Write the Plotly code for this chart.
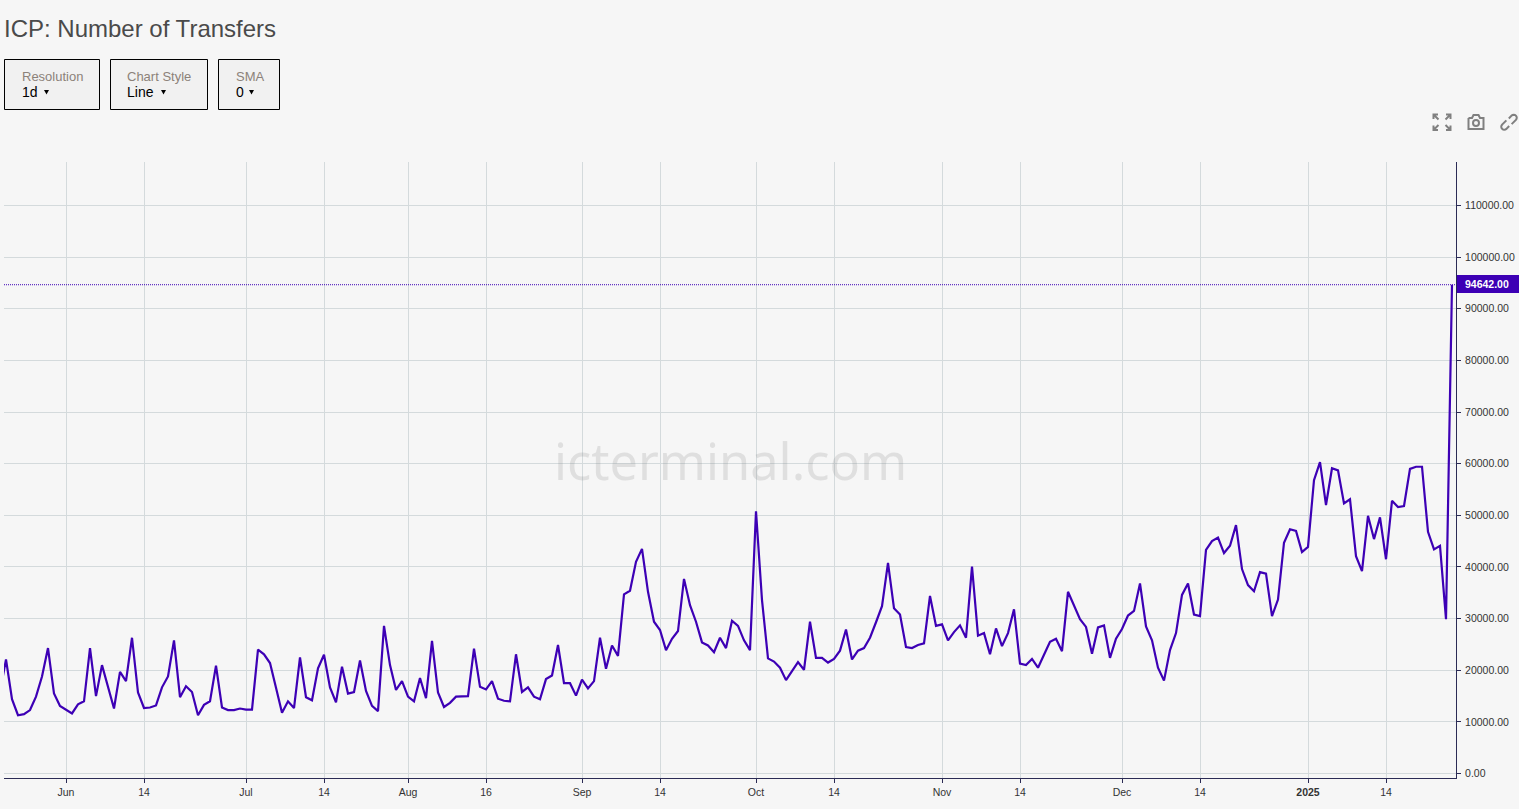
import math
import plotly.graph_objects as go

# Number of transfers, one value per day (daily bars, evenly spaced on the time scale)
transfers = [
 15800, 22100, 14400, 11300, 11500, 12300, 14900, 18800, 24300, 15500, 13100, 12400,
 11650, 13400, 14000, 24300, 15000, 21000, 16700, 12600, 19700, 17900, 26300, 15700,
 12700, 12800, 13200, 16700, 18800, 25800, 14800, 16900, 15800, 11300, 13300, 14000,
 20900, 12800, 12300, 12300, 12600, 12400, 12400, 24000, 23100, 21400, 16600, 11800,
 14000, 12700, 22500, 14800, 14200, 20400, 23000, 16700, 13800, 20700, 15500, 15800,
 21900, 16000, 13100, 12100, 28600, 21000, 16200, 17900, 14900, 14000, 18500, 14600,
 25700, 15700, 12900, 13700, 14900, 15000, 15000, 24200, 16800, 16300, 17900, 14500,
 14100, 14000, 23100, 15800, 16700, 14900, 14400, 18300, 19000, 24900, 17500, 17500,
 15100, 18200, 16500, 17900, 26300, 20300, 24800, 22800, 34700, 35400, 41000, 43500,
 35200, 29400, 27800, 23900, 26100, 27600, 37700, 32600, 29400, 25400, 24800, 23500,
 26300, 24300, 29600, 28600, 25800, 23900, 50800, 33600, 22300, 21700, 20500, 18100,
 19900, 21600, 20100, 29400, 22400, 22400, 21500, 22200, 23800, 27900, 22100, 23800,
 24300, 26300, 29300, 32400, 40800, 32000, 30800, 24500, 24300, 24900, 25200, 34400,
 28600, 28900, 25800, 27400, 28700, 26300, 40100, 26700, 27200, 23100, 28100, 24700,
 27200, 31800, 21300, 21000, 22200, 20500, 23000, 25500, 26100, 23700, 35200, 32600,
 29900, 28400, 23200, 28300, 28700, 22400, 26100, 28000, 30600, 31500, 36800, 28500,
 25800, 20500, 18000, 23900, 27200, 34600, 36800, 30800, 30500, 43300, 45000, 45700,
 42700, 44100, 48100, 39600, 36500, 35300, 39000, 38700, 30500, 33700, 44700, 47300,
 47000, 42900, 43900, 56800, 60300, 52000, 59100, 58700, 52300, 53100, 42100, 39200,
 49900, 45400, 49600, 41500, 52800, 51600, 51800, 59000, 59400, 59400, 46800, 43400,
 44100, 29900, 94642,
]
tick_positions = [11, 24, 41, 54, 68, 81, 97, 110, 126, 139, 157, 170, 187, 200, 218, 231]
tick_labels = ["Jun", "14", "Jul", "14", "Aug", "16", "Sep", "14", "Oct", "14", "Nov", "14",
               "Dec", "14", "<b>2025</b>", "14"]
y_ticks = [0, 10000, 20000, 30000, 40000, 50000, 60000, 70000, 80000, 90000, 100000, 110000]
title_text = "ICP: Number of Transfers"
menus = [("Resolution", "1d"), ("Chart Style", "Line"), ("SMA", "0")]

W, H = 1519, 809
L, R, T, B = 4, 1456, 162, 778
BG = "#f6f6f6"
LINE = "#3d00b5"
GRID = "#d4dadc"
AXIS = "#2b2b55"
FONT = "Liberation Sans, Arial, sans-serif"

def px(x):
    return (x - L) / (R - L)

def py(y):
    return (B - y) / (B - T)

def path(*segments):
    out = []
    for seg in segments:
        out.append(" ".join(("M" if i == 0 else "L") + f"{px(a):.5f},{py(b):.5f}" for i, (a, b) in enumerate(seg)))
    return " ".join(out)

shapes = []
annotations = []

def text(x, y, s, size, color, anchor="left", **kw):
    annotations.append(dict(x=px(x), y=py(y), xref="paper", yref="paper", text=s, showarrow=False,
                            xanchor=anchor, yanchor="middle", align=anchor, borderpad=0,
                            font=dict(size=size, color=color, family=kw.pop("family", FONT)), **kw))

text(3, 28, title_text, 24, "#4a4a4a")

boxes = [(4, 100), (110, 208), (218, 280)]
for (x0, x1), (label, val) in zip(boxes, menus):
    shapes.append(dict(type="rect", xref="paper", yref="paper", x0=px(x0 + .5), x1=px(x1 - .5),
                       y0=py(59.5), y1=py(109.5), fillcolor="#f1f1f1", line=dict(color="#000000", width=1)))
    offset = 15.5 if label == "Chart Style" else 16.5
    text(x0 + offset, 76, label, 13, "#8c8279")
    text(x0 + offset, 92, val, 14, "#000000")
    shift = {"1d": 40, "Line": 51, "0": 31}[val]
    shapes.append(dict(type="path", xref="paper", yref="paper", fillcolor="#000000", line=dict(width=0),
                       path=path([(x0 + shift, 90), (x0 + shift + 5, 90), (x0 + shift + 2.5, 94.5)]) + " Z"))

# toolbar icons
ICON = "#808080"
ic = dict(type="path", xref="paper", yref="paper", line=dict(color=ICON, width=2))
shapes.append(dict(ic, path=path(
    [(1438, 114.5), (1433.5, 114.5), (1433.5, 119)], [(1434, 115), (1438.5, 119.5)],
    [(1446, 114.5), (1450.5, 114.5), (1450.5, 119)], [(1450, 115), (1445.5, 119.5)],
    [(1438, 130), (1433.5, 130), (1433.5, 125.5)], [(1434, 129.5), (1438.5, 125)],
    [(1446, 130), (1450.5, 130), (1450.5, 125.5)], [(1450, 129.5), (1445.5, 125)])))
shapes.append(dict(ic, path=path([(1468.5, 118), (1472, 118), (1473.5, 115), (1478.5, 115), (1480, 118),
                                  (1483.5, 118), (1483.5, 129), (1468.5, 129), (1468.5, 118)])))
shapes.append(dict(type="circle", xref="paper", yref="paper", x0=px(1473), x1=px(1479), y0=py(126), y1=py(120),
                   line=dict(color=ICON, width=2)))

def hook(cx, cy, direction):
    # one link of the chain icon: a rounded hook along the diagonal
    ux, uy = direction * 0.7071, direction * -0.7071
    vx, vy = -uy, ux
    r, a = 3.0, 2.5
    pts = [(cx - ux * a * 1.4 + vx * r, cy - uy * a * 1.4 + vy * r)]
    for i in range(9):
        pts.append((cx + ux * (a + r * math.sin(math.pi * i / 8)) + vx * r * math.cos(math.pi * i / 8),
                    cy + uy * (a + r * math.sin(math.pi * i / 8)) + vy * r * math.cos(math.pi * i / 8)))
    pts.append((cx - ux * a * 0.6 - vx * r, cy - uy * a * 0.6 - vy * r))
    return pts

shapes.append(dict(ic, path=path(hook(1512, 119.5, 1), hook(1506, 125, -1))))

# watermark
text(730.5, 460.5, "icterminal.com", 50.5, "rgba(120,120,120,0.18)", anchor="center", family="Noto Sans, sans-serif")

# last-value tag
last = transfers[-1]
shapes.append(dict(type="rect", xref="paper", yref="paper", x0=px(1457), x1=px(1519), y0=py(275), y1=py(293),
                   fillcolor=LINE, line=dict(width=0)))
text(1487, 284, f"<b>{last:.2f}</b>", 10.5, "#ffffff", anchor="center")

xs = list(range(len(transfers)))

fig = go.Figure()
fig.add_trace(go.Scatter(x=[xs[0], xs[-1] + 1], y=[last, last], mode="lines", hoverinfo="skip",
                         line=dict(color=LINE, width=1, dash="1px,1px"), showlegend=False))
fig.add_trace(go.Scatter(x=xs, y=transfers, mode="lines", line=dict(color=LINE, width=2.2), showlegend=False,
                         name="Transfers"))

fig.update_layout(
    width=W, height=H, autosize=False,
    margin=dict(l=L, r=W - R, t=T, b=H - B, pad=0),
    paper_bgcolor=BG, plot_bgcolor=BG,
    font=dict(family=FONT, size=10.5, color="#333333"),
    shapes=shapes, annotations=annotations,
    xaxis=dict(range=[L / 6, R / 6], tickmode="array", tickvals=tick_positions, ticktext=tick_labels,
               showgrid=True, gridcolor=GRID, gridwidth=1, zeroline=False, showline=True, linecolor=AXIS,
               linewidth=1, ticks="outside", ticklen=4, tickcolor=AXIS, tickfont=dict(size=10.5, color="#333333")),
    yaxis=dict(side="right", range=[-850, 118400], tickmode="array", tickvals=y_ticks,
               ticktext=[f"{v:.2f}" for v in y_ticks], ticklabelstandoff=2,
               showgrid=True, gridcolor=GRID, gridwidth=1, zeroline=False, showline=True, linecolor=AXIS,
               linewidth=1, ticks="outside", ticklen=4, tickcolor=AXIS, tickfont=dict(size=10.5, color="#333333")),
)

fig.write_html("out.html", config=dict(displayModeBar=False),
               post_script="document.body.style.margin='0';document.body.style.background='%s';" % BG)
